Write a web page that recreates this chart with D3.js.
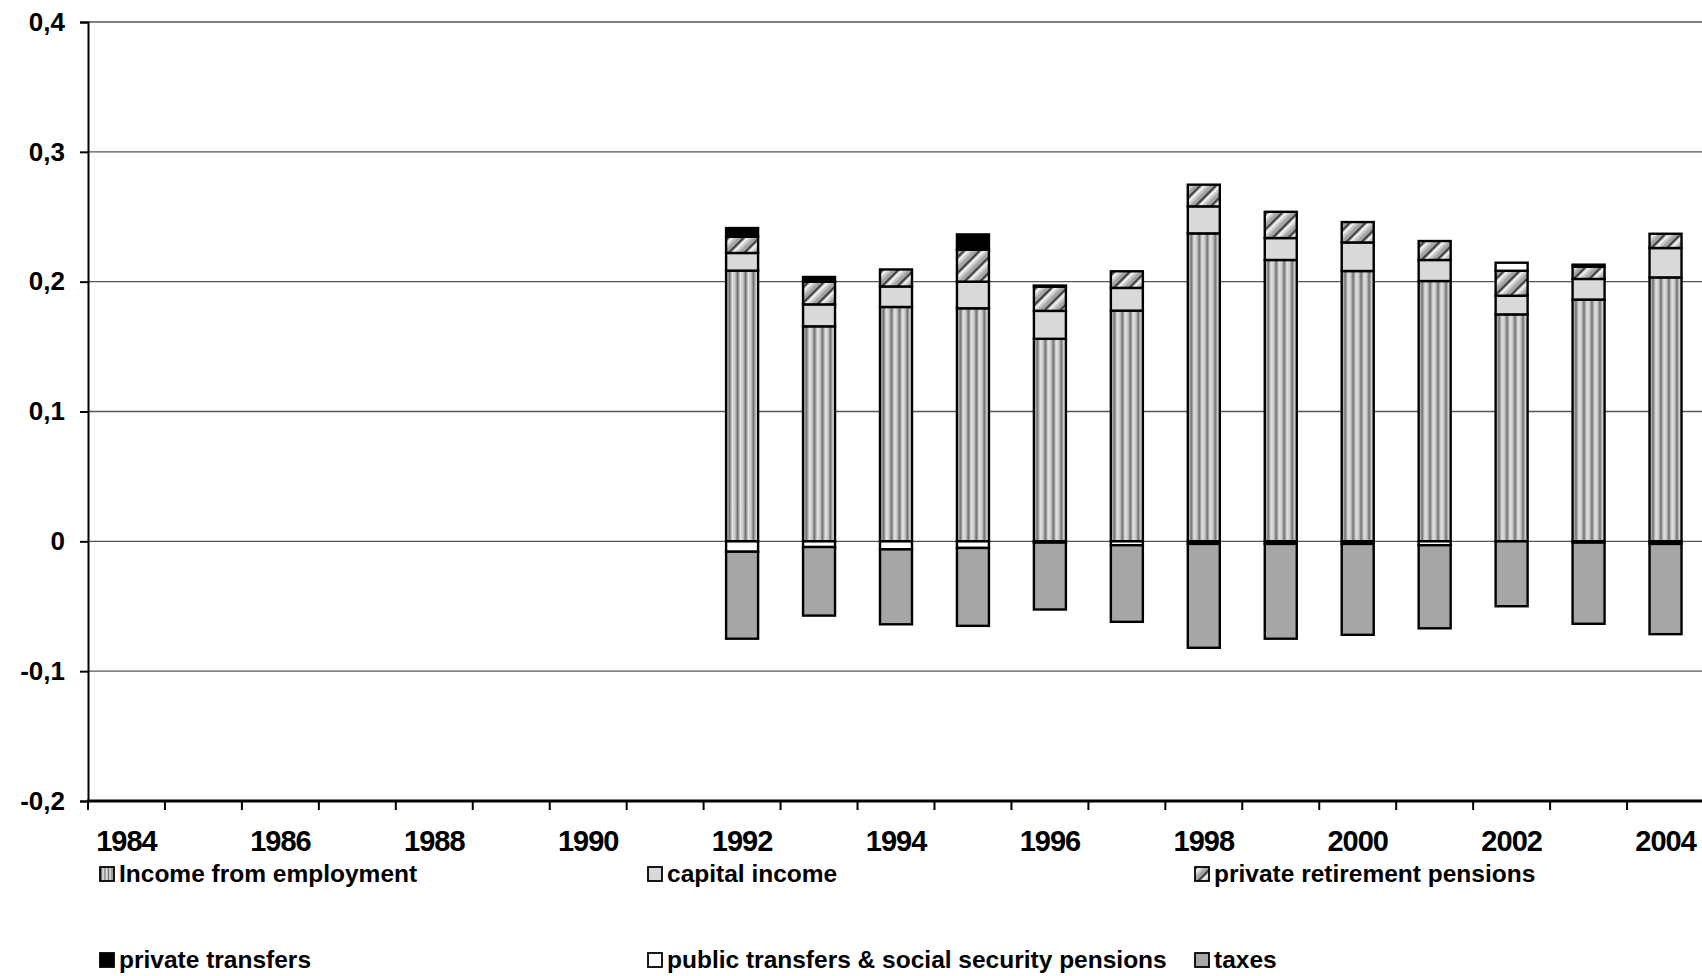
<!DOCTYPE html>
<html>
<head>
<meta charset="utf-8">
<script src="https://cdn.jsdelivr.net/npm/d3@7"></script>
<style>
  html, body { margin: 0; padding: 0; background: #fff; }
  svg { display: block; }
  text { font-family: "Liberation Sans", Arial, sans-serif; font-weight: bold; fill: #000; }
</style>
</head>
<body>
<svg id="chart" width="1702" height="976"></svg>
<script>
// ---- data ----
const years = d3.range(1984, 2005);
const seriesNames = ["Income from employment", "capital income", "private retirement pensions",
                     "private transfers", "public transfers & social security pensions", "taxes"];
// values for 1984-1991 are missing (null); 1992-2004
const employment   = [null,null,null,null,null,null,null,null, 0.2085,0.1656,0.1805,0.1795,0.1560,0.1777,0.2372,0.2167,0.2082,0.2005,0.1748,0.1862,0.2033];
const capital      = [null,null,null,null,null,null,null,null, 0.0136,0.0169,0.0158,0.0205,0.0215,0.0175,0.0208,0.0169,0.0220,0.0162,0.0144,0.0159,0.0226];
const pensions     = [null,null,null,null,null,null,null,null, 0.0125,0.0175,0.0131,0.0246,0.0187,0.0128,0.0167,0.0202,0.0157,0.0146,0.0192,0.0095,0.0110];
const privTransfers= [null,null,null,null,null,null,null,null, 0.0067,0.0036,0.0000,0.0118,0.0008,0.0000,-0.0020,-0.0020,-0.0020,0.0000,0.0000,0.0015,-0.0020];
const publicTrans  = [null,null,null,null,null,null,null,null, -0.0080,-0.0044,-0.0062,-0.0051,-0.0010,-0.0030,0.0000,0.0000,0.0000,-0.0030,0.0062,-0.0010,0.0000];
const taxes        = [null,null,null,null,null,null,null,null, -0.0670,-0.0528,-0.0577,-0.0600,-0.0515,-0.0590,-0.0800,-0.0730,-0.0700,-0.0640,-0.0500,-0.0625,-0.0695];
const yTicks = [0.4, 0.3, 0.2, 0.1, 0, -0.1, -0.2];
const yTickLabels = ["0,4", "0,3", "0,2", "0,1", "0", "-0,1", "-0,2"];
const xLabelYears = [1984,1986,1988,1990,1992,1994,1996,1998,2000,2002,2004];

(function () {
const seriesArrays = [employment, capital, pensions, privTransfers, publicTrans, taxes];
const table = years.map((yr, i) => {
  const row = { year: yr };
  seriesNames.forEach((n, k) => row[n] = seriesArrays[k][i] == null ? 0 : seriesArrays[k][i]);
  row.has = employment[i] != null;
  return row;
});

// ---- layout ----
const svg = d3.select("#chart");
const pL = 88, pR = 1704, pT = 22, pB = 801;

const x = d3.scaleBand().domain(years).range([pL, pR]).paddingInner(0).paddingOuter(0);
const y = d3.scaleLinear().domain([-0.2, 0.4]).range([pB, pT]);

// ---- patterns ----
const defs = svg.append("defs");
const gEmp = defs.append("linearGradient").attr("id", "empGrad")
  .attr("x1", "0").attr("x2", "0.25").attr("y1", "0").attr("y2", "0")
  .attr("spreadMethod", "repeat");
[[0, "#d4d4d4"], [0.2, "#b8b8b8"], [0.42, "#6e6e6e"], [0.58, "#a2a2a2"], [0.8, "#e2e2e2"], [1, "#d4d4d4"]]
  .forEach(([o, c]) => gEmp.append("stop").attr("offset", o).attr("stop-color", c));

const pPen = defs.append("pattern").attr("id", "penPat")
  .attr("patternUnits", "userSpaceOnUse").attr("width", 11).attr("height", 11)
  .attr("patternTransform", "rotate(45)");
pPen.append("rect").attr("width", 11).attr("height", 11).attr("fill", "#a4a4a4");
pPen.append("rect").attr("x", 0).attr("width", 2.5).attr("height", 11).attr("fill", "#404040");
pPen.append("rect").attr("x", 2.5).attr("width", 3).attr("height", 11).attr("fill", "#f2f2f2");
pPen.append("rect").attr("x", 5.5).attr("width", 2).attr("height", 11).attr("fill", "#cccccc");

const fills = ["url(#empGrad)", "#d9d9d9", "url(#penPat)", "#000000", "#ffffff", "#a6a6a6"];

// ---- gridlines ----
svg.append("g").selectAll("line").data(yTicks.filter(t => t !== -0.2)).join("line")
  .attr("x1", pL).attr("x2", 1702)
  .attr("y1", d => y(d)).attr("y2", d => y(d))
  .attr("stroke", "#555").attr("stroke-width", 1.3);

// ---- bars ----
const stack = d3.stack().keys(seriesNames).offset(d3.stackOffsetDiverging);
const stacked = stack(table);
const barW = 32;
const gBars = svg.append("g");
stacked.forEach((layer, k) => {
  gBars.append("g").selectAll("rect")
    .data(layer.filter(d => d.data.has && Math.abs(d[1] - d[0]) > 1e-9))
    .join("rect")
    .attr("x", d => x(d.data.year) + x.bandwidth() / 2 - barW / 2)
    .attr("width", barW)
    .attr("y", d => y(Math.max(d[0], d[1])))
    .attr("height", d => Math.abs(y(d[0]) - y(d[1])))
    .attr("fill", fills[k])
    .attr("stroke", "#000").attr("stroke-width", 2.4);
});

// ---- y axis ----
const yAxis = d3.axisLeft(y).tickValues(yTicks).tickSize(8)
  .tickFormat((d, i) => yTickLabels[i]);
const gy = svg.append("g").attr("transform", `translate(${pL},0)`).call(yAxis);
gy.select(".domain").attr("stroke", "#000").attr("stroke-width", 2);
gy.selectAll(".tick line").attr("stroke", "#000").attr("stroke-width", 2);
gy.selectAll(".tick text").attr("x", -23).attr("font-size", 26)
  .style("font-family", '"Liberation Sans", Arial, sans-serif').style("font-weight", "bold");

// ---- x axis ----
const xAxis = d3.axisBottom(x).tickSize(0).tickValues(xLabelYears).tickFormat(d3.format("d"));
const gx = svg.append("g").attr("transform", `translate(0,${pB})`).call(xAxis);
gx.select(".domain").remove();
gx.selectAll(".tick text").attr("y", 50).attr("dy", 0).attr("font-size", 29)
  .attr("letter-spacing", -1)
  .style("font-family", '"Liberation Sans", Arial, sans-serif').style("font-weight", "bold");
svg.append("g").selectAll("line").data(years).join("line")
  .attr("x1", d => x(d)).attr("x2", d => x(d))
  .attr("y1", pB).attr("y2", pB + 9)
  .attr("stroke", "#000").attr("stroke-width", 2);
svg.append("line").attr("x1", pL - 1).attr("x2", 1702).attr("y1", pB).attr("y2", pB)
  .attr("stroke", "#000").attr("stroke-width", 3);

// ---- legend ----
const legendPos = [[100, 867], [648, 867], [1195, 867], [100, 953], [648, 953], [1195, 953]];
const lg = svg.append("g");
seriesNames.forEach((n, k) => {
  const [lx, ly] = legendPos[k];
  const g = lg.append("g").attr("transform", `translate(${lx},${ly})`);
  g.append("rect").attr("width", 14).attr("height", 14)
    .attr("fill", fills[k]).attr("stroke", "#000").attr("stroke-width", 1.8);
  g.append("text").attr("x", 19).attr("y", 15).attr("font-size", 24.5).text(n);
});
})();
</script>
</body>
</html>
